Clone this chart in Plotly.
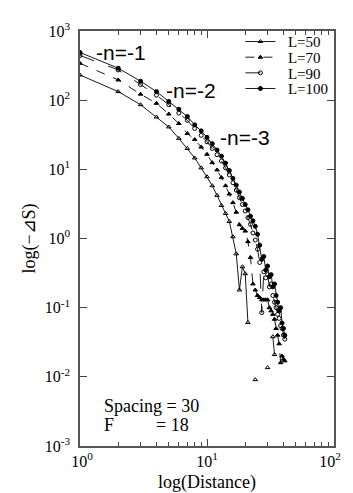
import plotly.graph_objects as go

distance = list(range(1, 42))

# L=100 (filled circles, solid)
L100 = [489, 290, 188, 133, 96, 74, 58, 44, 36, 29,
        23.5, 19, 15.5, 12.3, 9.6, 7.4, 5.9, 4.7, 3.8, 3.1,
        2.6, 2.1, 1.8, 1.5, 1.15, 0.8, 0.5, 0.55, 0.35, 0.4,
        0.28, 0.3, 0.2, 0.22, 0.15, 0.12, 0.09, 0.1, 0.06, 0.05, 0.04]
# L=90 (open circles, solid)
L90 = [443, 274, 168, 118, 86, 65, 51, 39, 31, 25,
       20, 16.3, 13.2, 10.5, 8.3, 6.4, 5.0, 3.9, 3.1, 2.5,
       2.0, 1.6, 1.2, 0.95, 0.7, 0.45, 0.085, 0.33, 0.27, 0.3,
       0.2, 0.22, 0.15, 0.12, 0.1, 0.08, 0.07, 0.055, 0.05, 0.04, 0.035]
# L=70 (filled triangles, dashed)
L70 = [341, 196, 122, 90, 63, 46, 33, 27, 21, 16.5,
       12.5, 9.8, 7.6, 5.8, 4.4, 3.3, 2.4, 1.58, 1.4, 1.28,
       0.9, 0.53, 0.22, 0.18, 0.15, 0.14, 0.13, 0.13, 0.13, 0.13,
       0.1, 0.09, 0.08, 0.068, 0.05, 0.04, 0.03, 0.016, 0.02, 0.018, 0.017]
# L=50 (open triangles, thin solid)
L50 = [231, 133, 86, 57, 41, 28, 20, 14.6, 10.5, 7.8,
       5.8, 4.2, 3.0, 2.3, 1.76, 1.06, 0.6, 0.18, 0.39, 0.31,
       0.061, None, None, 0.0091, None, None, None, None, None, 0.0136,
       None, None, 0.038, 0.021]

names = ["L=50", "L=70", "L=90", "L=100"]
values = [L50, L70, L90, L100]
symbols = ["triangle-up-open", "triangle-up", "circle-open", "circle"]
dashes = ["solid", "dash", "longdash", "solid"]
legend_ids = ["legend", "legend2", "legend3", "legend4"]
legend_rows_px = [33, 49, 65, 81]

fig = go.Figure()
for name, vals, sym, dash, lid in zip(names, values, symbols, dashes, legend_ids):
    fig.add_trace(go.Scatter(
        x=distance[:len(vals)], y=vals, name="\u00a0\u00a0" + name,
        mode="lines+markers", connectgaps=False, legend=lid,
        line=dict(color="black", width=0.9, dash=dash),
        marker=dict(symbol=sym, size=4, color="black",
                    line=dict(color="black", width=1)),
    ))

xticks = [1, 10, 100]
xticktext = ["\u00a010<sup>0</sup>", "10<sup>1</sup>", "10<sup>2</sup>\u00a0\u00a0"]
yticks = [1e-3, 1e-2, 1e-1, 1, 10, 100, 1000]
yticktext = ["10<sup>-3</sup>", "10<sup>-2</sup>", "10<sup>-1</sup>", "10<sup>0</sup>",
             "10<sup>1</sup>", "10<sup>2</sup>", "10<sup>3</sup>"]
minor_x = [k * 10 ** e for e in (0, 1) for k in range(2, 10)]

axis_common = dict(
    showline=True, linecolor="#555", linewidth=1.5, mirror="ticks",
    ticks="inside", ticklen=7, tickcolor="#444", tickwidth=1,
    showgrid=False, zeroline=False,
    tickfont=dict(family="Liberation Serif", size=16, color="black"),
)

fig.update_xaxes(type="log", range=[0, 2], tickvals=xticks, ticktext=xticktext,
                 minor=dict(tickvals=minor_x, ticks="inside", ticklen=4,
                            tickcolor="#444", showgrid=False),
                 ticklabelstandoff=0, ticklabeloverflow="allow",
                 title=dict(text="log(Distance)", standoff=6,
                            font=dict(family="Liberation Serif", size=18, color="black")),
                 **axis_common)
fig.update_yaxes(type="log", range=[-3, 3], tickvals=yticks, ticktext=yticktext,
                 ticklabelstandoff=5,
                 title=dict(text="log(\u2212\u22BFS)", standoff=4,
                            font=dict(family="Liberation Serif", size=18, color="black")),
                 **axis_common)

ann_sans = dict(family="Liberation Sans", size=21, color="black")
ann_serif = dict(family="Liberation Serif", size=18, color="black")


def px2paper(px, py):
    return (px - 72) / 266.0, (446 - py) / 424.0


annots = [
    ("-n=-1", 87, 44, ann_sans),
    ("-n=-2", 160, 83, ann_sans),
    ("-n=-3", 217, 131, ann_sans),
    ("Spacing = 30", 95, 405, ann_serif),
    ("F", 95, 425, ann_serif),
    ("= 18", 150, 425, ann_serif),
]
for text, px, py, f in annots:
    xp, yp = px2paper(px, py)
    fig.add_annotation(text=text, x=xp, y=yp, xref="paper", yref="paper",
                       xanchor="left", yanchor="middle", showarrow=False, font=f)

layout_legends = {}
for lid, rowpx in zip(legend_ids, legend_rows_px):
    xp, yp = px2paper(240, rowpx)
    layout_legends[lid] = dict(
        x=xp, y=yp, xanchor="left", yanchor="middle",
        bgcolor="rgba(0,0,0,0)", borderwidth=0, itemwidth=30,
        font=dict(family="Liberation Serif", size=15, color="black"),
    )

fig.update_layout(
    width=353, height=493,
    margin=dict(l=72, r=15, t=22, b=47),
    plot_bgcolor="white", paper_bgcolor="white",
    showlegend=True,
    **layout_legends,
)

fig.write_html("out.html")
